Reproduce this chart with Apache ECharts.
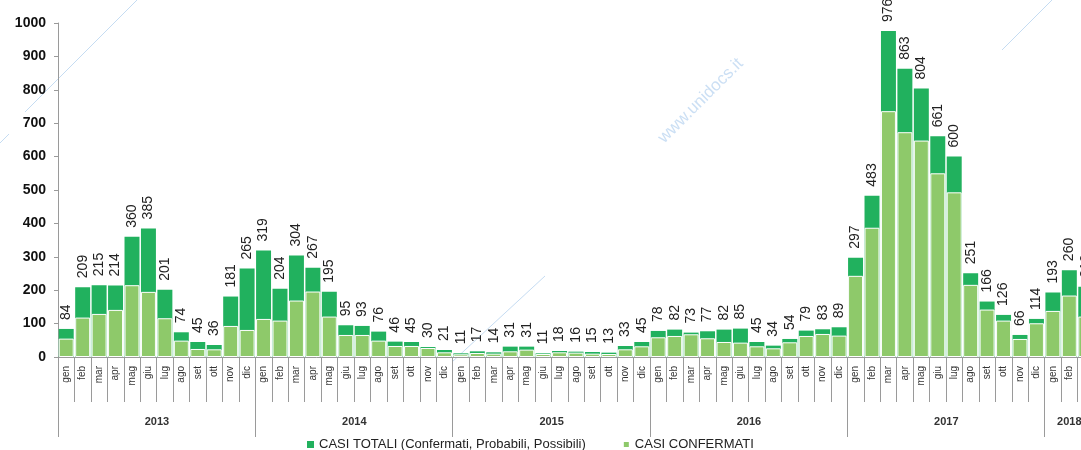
<!DOCTYPE html>
<html>
<head>
<meta charset="utf-8">
<script src="https://cdn.jsdelivr.net/npm/echarts@6/dist/echarts.min.js"></script>
<style>
  html, body { margin: 0; padding: 0; overflow: hidden; background: #fff; }
  #chart { width: 1100px; height: 450px; }
</style>
</head>
<body>
<div id="chart"></div>
<script>
// Monthly cases, Jan 2013 - Mar 2018
const months = ['gen', 'feb', 'mar', 'apr', 'mag', 'giu', 'lug', 'ago', 'set', 'ott', 'nov', 'dic'];
const years = ['2013', '2014', '2015', '2016', '2017', '2018'];
const monthsIn2018 = 3;

// CASI TOTALI (Confermati, Probabili, Possibili)
const casiTotali = [
  84, 209, 215, 214, 360, 385, 201, 74, 45, 36, 181, 265,
  319, 204, 304, 267, 195, 95, 93, 76, 46, 45, 30, 21,
  11, 17, 14, 31, 31, 11, 18, 16, 15, 13, 33, 45,
  78, 82, 73, 77, 82, 85, 45, 34, 54, 79, 83, 89,
  297, 483, 976, 863, 804, 661, 600, 251, 166, 126, 66, 114,
  193, 260, 210
];

// CASI CONFERMATI
const casiConfermati = [
  55, 118, 129, 141, 215, 195, 116, 49, 24, 23, 93, 81,
  114, 109, 169, 196, 121, 66, 66, 49, 33, 33, 27, 14,
  8, 12, 10, 17, 22, 9, 14, 13, 10, 9, 23, 32,
  59, 63, 68, 56, 45, 43, 32, 26, 44, 63, 69, 64,
  243, 387, 736, 673, 648, 550, 493, 216, 142, 109, 54, 101,
  138, 184, 121
];

const yTicks = { min: 0, max: 1000, interval: 100 };

// category keys "year-month"
const categories = [];
years.forEach(function (y, yi) {
  const n = yi === years.length - 1 ? monthsIn2018 : 12;
  for (let m = 0; m < n; m++) categories.push(y + '-' + months[m]);
});

const DARK = '#21b15e';
const LIGHT = '#8ec96a';
const AXIS = '#9a9a9a';
const FONT = '"Liberation Sans", Arial, sans-serif';

const chart = echarts.init(document.getElementById('chart'));

chart.setOption({
  animation: false,
  textStyle: { fontFamily: FONT },
  grid: { left: 58, right: 6, top: 23, bottom: 93, containLabel: false },
  legend: {
    left: 302,
    top: 433,
    icon: 'rect',
    itemWidth: 7,
    itemHeight: 7,
    itemGap: 36,
    textStyle: { fontSize: 13, color: '#222', fontFamily: FONT },
    data: ['CASI TOTALI (Confermati, Probabili, Possibili)', 'CASI CONFERMATI']
  },
  xAxis: [
    {
      type: 'category',
      data: categories,
      boundaryGap: true,
      axisLine: { show: true, lineStyle: { color: AXIS, width: 1 } },
      axisTick: { show: true, interval: 0, length: 45, lineStyle: { color: AXIS } },
      axisLabel: {
        interval: 0,
        rotate: 90,
        margin: 9,
        fontSize: 10,
        color: '#333',
        fontFamily: FONT,
        formatter: function (v) { return v.split('-')[1]; }
      },
      splitLine: { show: false }
    },
    {
      type: 'category',
      data: categories,
      position: 'bottom',
      boundaryGap: true,
      axisLine: { show: false },
      axisTick: {
        show: true,
        interval: function (i) { return i % 12 === 0; },
        length: 80,
        lineStyle: { color: AXIS }
      },
      axisLabel: {
        interval: function (i) { return (i % 12 === 5 && i < 60) || i === 61; },
        margin: 59,
        fontSize: 11,
        fontWeight: 'bold',
        color: '#333',
        fontFamily: FONT,
        formatter: function (v, i) {
          const y = v.split('-')[0];
          return i === 61 ? y : '{mid|' + y + '}';
        },
        rich: {
          mid: { padding: [0, 0, 0, 17], fontSize: 11, fontWeight: 'bold', color: '#333', fontFamily: FONT }
        }
      },
      splitLine: { show: false }
    }
  ],
  yAxis: {
    type: 'value',
    min: yTicks.min,
    max: yTicks.max,
    interval: yTicks.interval,
    axisLine: { show: true, lineStyle: { color: AXIS } },
    axisTick: { show: true, length: 4, lineStyle: { color: AXIS } },
    axisLabel: {
      fontSize: 14, fontWeight: 'bold', color: '#111', margin: 12, fontFamily: FONT,
      formatter: function (v) { return String(v); }
    },
    splitLine: { show: false }
  },
  series: [
    {
      name: 'CASI TOTALI (Confermati, Probabili, Possibili)',
      type: 'bar',
      data: casiTotali,
      barCategoryGap: '9%',
      barGap: '-100%',
      itemStyle: { color: DARK },
      label: {
        show: true,
        position: 'top',
        rotate: 90,
        align: 'left',
        verticalAlign: 'middle',
        distance: 9,
        fontSize: 14,
        color: '#222',
        fontFamily: FONT
      }
    },
    {
      name: 'CASI CONFERMATI',
      type: 'bar',
      data: casiConfermati,
      barCategoryGap: '9%',
      barGap: '-100%',
      itemStyle: { color: LIGHT, borderColor: '#ffffff', borderWidth: 1 }
    }
  ],
  graphic: [
    {
      type: 'text',
      left: 655,
      top: 55,
      rotation: Math.PI / 4,
      style: { text: 'www.unidocs.it', fontSize: 17, fill: 'rgba(140,185,230,0.45)', fontFamily: FONT }
    },
    { type: 'line', shape: { x1: 25, y1: 112, x2: 137, y2: 0 }, style: { stroke: 'rgba(140,185,230,0.5)', lineWidth: 1 } },
    { type: 'line', shape: { x1: 0, y1: 143, x2: 9, y2: 134 }, style: { stroke: 'rgba(140,185,230,0.5)', lineWidth: 1 } },
    { type: 'line', shape: { x1: 452, y1: 362, x2: 545, y2: 276 }, style: { stroke: 'rgba(140,185,230,0.5)', lineWidth: 1 } },
    { type: 'line', shape: { x1: 1002, y1: 50, x2: 1052, y2: 0 }, style: { stroke: 'rgba(140,185,230,0.5)', lineWidth: 1 } }
  ]
});
</script>
</body>
</html>
